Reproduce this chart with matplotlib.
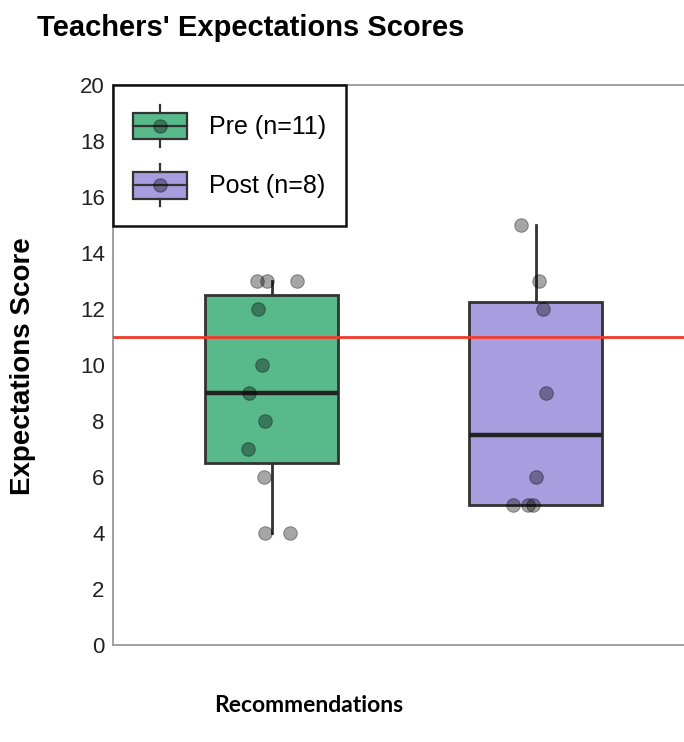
import numpy as np
import matplotlib.pyplot as plt
from matplotlib.patches import Patch, Rectangle
from matplotlib.lines import Line2D
from matplotlib.legend_handler import HandlerBase

plt.rcParams['font.family'] = ['Liberation Sans', 'DejaVu Sans']

# data
groups = ['Pre (n=11)', 'Post (n=8)']
pre_scores = [13, 13, 13, 12, 10, 9, 8, 7, 6, 4, 4]
pre_jitter = [-0.057, -0.019, 0.095, -0.053, -0.038, -0.087, -0.027, -0.091, -0.030, -0.027, 0.068]
post_scores = [15, 13, 12, 9, 6, 5, 5, 5]
post_jitter = [-0.057, 0.011, 0.027, 0.038, 0.0, -0.087, -0.030, -0.011]
threshold = 11
yticks = list(range(0, 21, 2))

colors = ['#58b98b', '#a79ddf']
edge = '#333333'

#-----------------------------------------------------------------------------------------

class BoxHandler(HandlerBase):
    def create_artists(self, legend, orig_handle, xdescent, ydescent, width, height, fontsize, trans):
        cx = width / 2 - xdescent
        cy = height / 2 - ydescent
        bh = height * 0.64
        wl = height * 0.18
        rect = Rectangle((-xdescent, cy - bh / 2), width, bh, facecolor=orig_handle.get_facecolor(),
                         edgecolor=edge, lw=1.6, transform=trans)
        med = Line2D([-xdescent, width - xdescent], [cy, cy], color=edge, lw=1.6, transform=trans)
        w1 = Line2D([cx, cx], [cy + bh / 2, cy + bh / 2 + wl], color=edge, lw=1.6, transform=trans)
        w2 = Line2D([cx, cx], [cy - bh / 2, cy - bh / 2 - wl], color=edge, lw=1.6, transform=trans)
        dot = Line2D([cx], [cy], marker='o', ms=9.5, color='black', alpha=0.35, lw=0, transform=trans)
        return [rect, med, w1, w2, dot]


fig = plt.figure(figsize=(6.84, 7.42), dpi=100)
ax = fig.add_axes([113 / 684, 1 - 645 / 742, 1 - 113 / 684, (645 - 85) / 742])

bp = ax.boxplot([pre_scores, post_scores], positions=[0, 1], widths=0.504, patch_artist=True,
                showcaps=False, showfliers=False,
                boxprops=dict(edgecolor=edge, lw=2),
                whiskerprops=dict(color=edge, lw=2),
                medianprops=dict(color='#222222', lw=3.2))
for patch, c in zip(bp['boxes'], colors):
    patch.set_facecolor(c)

ax.axhline(threshold, color='#f2392b', lw=2, zorder=3)

for pos, scores, jit in [(0, pre_scores, pre_jitter), (1, post_scores, post_jitter)]:
    ax.scatter(pos + np.array(jit), scores, s=95, color='black', alpha=0.35, lw=0.8, zorder=4)

ax.set_xlim(-0.602, 1.561)
ax.set_ylim(0, 20)
ax.set_yticks(yticks)
ax.set_xticks([])
ax.tick_params(axis='y', length=0, pad=6, labelsize=16, labelcolor='#222222')
for s in ['left', 'bottom', 'top']:
    ax.spines[s].set_color('#9a9a9a')
    ax.spines[s].set_linewidth(1.3)
ax.spines['right'].set_visible(False)

handles = [Patch(facecolor=c) for c in colors]
leg = ax.legend(handles, groups, handler_map={Patch: BoxHandler()}, loc='upper left',
                bbox_to_anchor=(0, 1), borderaxespad=0, fontsize=18, handlelength=2.16,
                handleheight=2.2, handletextpad=0.88, labelspacing=0.7, borderpad=0.8,
                fancybox=False, framealpha=1)
leg.get_frame().set_edgecolor('#111111')
leg.get_frame().set_linewidth(1.8)

fig.text(37 / 684, 1 - 28 / 742, "Teachers' Expectations Scores", fontsize=21, fontweight='bold',
         ha='left', va='center')
fig.text(23 / 684, 1 - 366 / 742, 'Expectations Score', fontsize=20, fontweight='bold',
         rotation=90, ha='center', va='center')
fig.text(309 / 684, 1 - 705 / 742, 'Recommendations', fontsize=16.5, fontweight='bold',
         family=['Lato', 'DejaVu Sans'], ha='center', va='center')

fig.savefig('out.png', dpi=100)
